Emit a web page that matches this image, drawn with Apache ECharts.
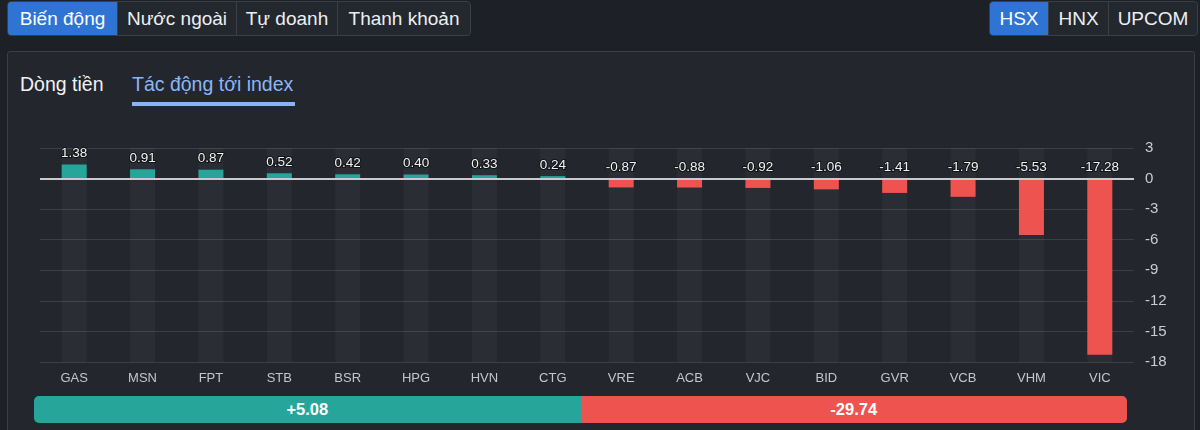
<!DOCTYPE html>
<html>
<head>
<meta charset="utf-8">
<script src="https://cdn.jsdelivr.net/npm/echarts@6/dist/echarts.min.js"></script>
<style>
  html, body { margin: 0; padding: 0; width: 1200px; height: 430px; overflow: hidden; background: #1d2026; font-family: "Liberation Sans", "Noto Sans", Arial, sans-serif; }
  .tabs { position: absolute; top: 1px; height: 33px; display: flex; border: 1px solid #3a3e45; border-radius: 4px; overflow: hidden; background: #23272e; }
  .tab { height: 33px; line-height: 33px; color: #eceff3; font-size: 19px; text-align: center; border-left: 1px solid #3a3e45; box-sizing: border-box; }
  .tab:first-child { border-left: none; }
  .tab.active { background: #2f74d3; color: #fff; }
  #panel { position: absolute; left: 7px; top: 51px; width: 1188px; height: 400px; border: 1px solid #3b3e45; border-radius: 3px; background: #23262d; box-sizing: border-box; }
  .sub { position: absolute; top: 73px; font-size: 19.5px; color: #f0f2f5; }
  .sub.active { color: #8cb6f4; }
  #underline { position: absolute; left: 132px; top: 102px; width: 163px; height: 4px; background: #86b4f5; }
  #chart { position: absolute; left: 0; top: 0; width: 1200px; height: 430px; }
  #summary { position: absolute; left: 34px; top: 396px; width: 1093px; height: 27px; display: flex; border-radius: 5px; overflow: hidden; }
  #summary div { flex: 1; text-align: center; line-height: 27px; color: #fff; font-weight: bold; font-size: 16.5px; }
  #up { background: #26a69a; }
  #down { background: #ef5350; }
</style>
</head>
<body>
<div id="panel"></div>
<div class="tabs" style="left:7px;">
  <div class="tab active" style="width:109px;">Biến động</div>
  <div class="tab" style="width:119px;">Nước ngoài</div>
  <div class="tab" style="width:101px;">Tự doanh</div>
  <div class="tab" style="width:133px;">Thanh khoản</div>
</div>
<div class="tabs" style="left:989px;">
  <div class="tab active" style="width:58px;">HSX</div>
  <div class="tab" style="width:60px;">HNX</div>
  <div class="tab" style="width:89px;">UPCOM</div>
</div>
<div class="sub" style="left:20px;">Dòng tiền</div>
<div class="sub active" style="left:132px;">Tác động tới index</div>
<div id="underline"></div>
<div id="chart"></div>
<div id="summary"><div id="up"></div><div id="down"></div></div>
<script>
// ---- data ----
const categories = ["GAS","MSN","FPT","STB","BSR","HPG","HVN","CTG","VRE","ACB","VJC","BID","GVR","VCB","VHM","VIC"];
const impactValues = [1.38, 0.91, 0.87, 0.52, 0.42, 0.40, 0.33, 0.24, -0.87, -0.88, -0.92, -1.06, -1.41, -1.79, -5.53, -17.28];
const totalUp = 5.08;
const totalDown = -29.74;
const yMin = -18, yMax = 3, yStep = 3;

document.getElementById('up').textContent = '+' + totalUp.toFixed(2);
document.getElementById('down').textContent = totalDown.toFixed(2);

const chart = echarts.init(document.getElementById('chart'), null, { renderer: 'canvas' });
chart.setOption({
  backgroundColor: 'transparent',
  animation: false,
  grid: { left: 40, right: 66, top: 148, bottom: 68 },
  xAxis: {
    type: 'category',
    data: categories,
    axisLine: { show: false },
    axisTick: { show: false },
    axisLabel: { color: '#c3c6cc', fontSize: 13, margin: 10, fontFamily: 'Liberation Sans, Arial, sans-serif' }
  },
  yAxis: {
    type: 'value',
    position: 'right',
    min: yMin, max: yMax, interval: yStep,
    axisLine: { show: false },
    axisTick: { show: false },
    axisLabel: { color: '#c9ccd2', fontSize: 15, margin: 11, fontFamily: 'Liberation Sans, Arial, sans-serif' },
    splitLine: { lineStyle: { color: '#3c3f46', width: 1 } }
  },
  series: [{
    type: 'bar',
    data: impactValues,
    barWidth: 25,
    showBackground: true,
    backgroundStyle: { color: 'rgba(255,255,255,0.035)' },
    itemStyle: { color: p => p.value >= 0 ? '#26a69a' : '#ef5350' },
    label: {
      show: true,
      position: 'top',
      distance: 4,
      formatter: p => p.value.toFixed(2),
      color: '#f2f2f2',
      fontSize: 13.5,
      fontFamily: 'Liberation Sans, Arial, sans-serif',
      textBorderColor: '#111317',
      textBorderWidth: 2
    },
    markLine: {
      silent: true,
      symbol: 'none',
      label: { show: false },
      lineStyle: { color: '#c8cace', width: 2, type: 'solid' },
      data: [{ yAxis: 0 }]
    },
    z: 2
  }]
});
</script>
</body>
</html>
